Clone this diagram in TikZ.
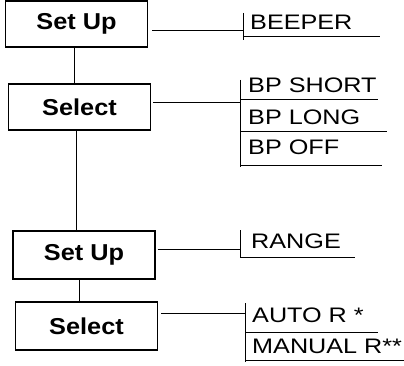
\documentclass[tikz,border=0pt]{standalone}
\usepackage{fontspec}
\setmainfont{Liberation Sans}
\newfontfamily\boxfont[FakeStretch=1.1]{Liberation Sans Bold}
\newfontfamily\lblfont[FakeStretch=1.2]{Liberation Sans}
\begin{document}
\begin{tikzpicture}[x=1pt,y=-1pt,
  menubox/.style={draw,line width=1.2pt,inner sep=0pt,minimum width=142pt,minimum height=46pt,
    font=\boxfont\fontsize{23}{23}\selectfont},
  lbl/.style={inner sep=0pt,anchor=base west,font=\lblfont\fontsize{21}{21}\selectfont},
  conn/.style={line width=0.9pt},
  rule/.style={line width=0.9pt}]
\useasboundingbox (0,0) rectangle (404,366);
% boxes
\node[menubox] (b1) at (76.5,24) {Set Up};
\node[menubox] (b2) at (79.5,107) {Select};
\node[menubox,minimum height=48pt] (b3) at (84,255) {Set Up};
\node[menubox,minimum height=48pt] (b4) at (86.5,326) {Select};
% vertical links
\coordinate (v1) at (74,0);
\coordinate (v2) at (76,0);
\coordinate (v3) at (79,0);
\draw[conn] (b1.south -| v1) -- (b2.north -| v1);
\draw[conn] (b2.south -| v2) -- (b3.north -| v2);
\draw[conn] (b3.south -| v3) -- (b4.north -| v3);
% junctions
\coordinate (j1) at (243,30);
\coordinate (j2) at (240,102);
\coordinate (j3) at (240,249);
\coordinate (j4) at (245,313);
\draw[conn,shorten <=4pt] (b1.east |- j1) -- (j1);
\draw[conn,shorten <=2pt] (b2.east |- j2) -- (j2);
\draw[conn,shorten <=2pt] (b3.east |- j3) -- (j3);
\draw[conn,shorten <=3pt] (b4.east |- j4) -- (j4);
% group 1
\node[lbl] (beeper) at (250,30) {BEEPER};
\draw[rule] (243,13) -- (243,40);
\draw[rule] (243,36) -- (380,36);
% group 2
\node[lbl] (bpshort) at (248,93) {BP SHORT};
\node[lbl] (bplong) at (248,125) {BP LONG};
\node[lbl] (bpoff) at (248,155) {BP OFF};
\draw[rule] (240,80) -- (240,167);
\draw[rule] (240,99) -- (378,99);
\draw[rule] (240,131) -- (387,131);
\draw[rule] (240,165) -- (382,165);
% group 3
\node[lbl] (range) at (251,248) {RANGE};
\draw[rule] (240,230) -- (240,258);
\draw[rule] (240,257) -- (355,257);
% group 4
\node[lbl] (autor) at (252,322) {AUTO R *};
\node[lbl] (manualr) at (252,353) {MANUAL R**};
\draw[rule] (245,303) -- (245,362);
\draw[rule] (245,332) -- (378,332);
\draw[rule] (245,360) -- (404,360);
\end{tikzpicture}
\end{document}
